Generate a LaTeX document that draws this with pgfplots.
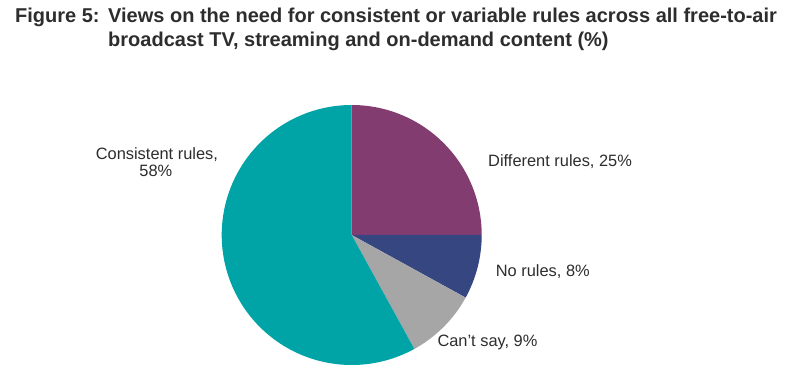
\documentclass[border=0pt]{standalone}
\usepackage{pgfplots}
\pgfplotsset{compat=1.18}
\usepackage{fontspec}
\setmainfont{Liberation Sans}
\definecolor{cTeal}{RGB}{0,164,167}
\definecolor{cPurple}{RGB}{131,60,111}
\definecolor{cBlue}{RGB}{53,70,128}
\definecolor{cGray}{RGB}{166,166,166}
\definecolor{cText}{RGB}{45,45,45}
% data (%)
\def\vDiff{25}
\def\vNo{8}
\def\vCant{9}
\def\vCons{58}
\begin{document}
\begin{tikzpicture}[x=1pt,y=1pt]
\pgfmathsetmacro\aA{90}
\pgfmathsetmacro\aB{\aA-3.6*\vDiff}
\pgfmathsetmacro\aC{\aB-3.6*\vNo}
\pgfmathsetmacro\aD{\aC-3.6*\vCant}
\pgfmathsetmacro\aE{\aD-3.6*\vCons}
\fill[white] (0,0) rectangle (800,385);
\useasboundingbox (0,0) rectangle (800,385);
% title
\node[anchor=base west, inner sep=0pt, text=cText, font=\fontsize{20}{24}\selectfont\bfseries] at (15,362.7) {Figure 5:};
\node[anchor=base west, inner sep=0pt, text=cText, font=\fontsize{20}{24}\selectfont\bfseries] at (108,362.7) {Views on the need for consistent or variable rules across all free-to-air};
\node[anchor=base west, inner sep=0pt, text=cText, font=\fontsize{20}{24}\selectfont\bfseries] at (108,338.3) {broadcast TV, streaming and on-demand content (\%)};
\begin{axis}[
  at={(351.7pt,150pt)}, anchor=origin,
  x=130pt, y=130pt,
  xmin=-1, xmax=1, ymin=-1, ymax=1,
  hide axis, clip=false,
]
\addplot[fill=cPurple, draw=none, domain=\aB:\aA, samples=90, variable=\t] ({cos(\t)},{sin(\t)}) -- (axis cs:0,0) -- cycle;
\addplot[fill=cBlue, draw=none, domain=\aC:\aB, samples=40, variable=\t] ({cos(\t)},{sin(\t)}) -- (axis cs:0,0) -- cycle;
\addplot[fill=cGray, draw=none, domain=\aD:\aC, samples=40, variable=\t] ({cos(\t)},{sin(\t)}) -- (axis cs:0,0) -- cycle;
\addplot[fill=cTeal, draw=none, domain=\aE:\aD, samples=200, variable=\t] ({cos(\t)},{sin(\t)}) -- (axis cs:0,0) -- cycle;
\end{axis}
% labels
\node[anchor=base, inner sep=0pt, text=cText, font=\fontsize{16.4}{17}\selectfont] at (156.9,225) {Consistent rules,};
\node[anchor=base, inner sep=0pt, text=cText, font=\fontsize{16.4}{17}\selectfont] at (155.8,208.3) {58\%};
\node[anchor=base west, inner sep=0pt, text=cText, font=\fontsize{16.4}{17}\selectfont] at (488,218.3) {Different rules, 25\%};
\node[anchor=base west, inner sep=0pt, text=cText, font=\fontsize{16.4}{17}\selectfont] at (495.7,108.3) {No rules, 8\%};
\node[anchor=base west, inner sep=0pt, text=cText, font=\fontsize{16.4}{17}\selectfont] at (437.3,38.3) {Can’t say, 9\%};
\end{tikzpicture}
\end{document}
